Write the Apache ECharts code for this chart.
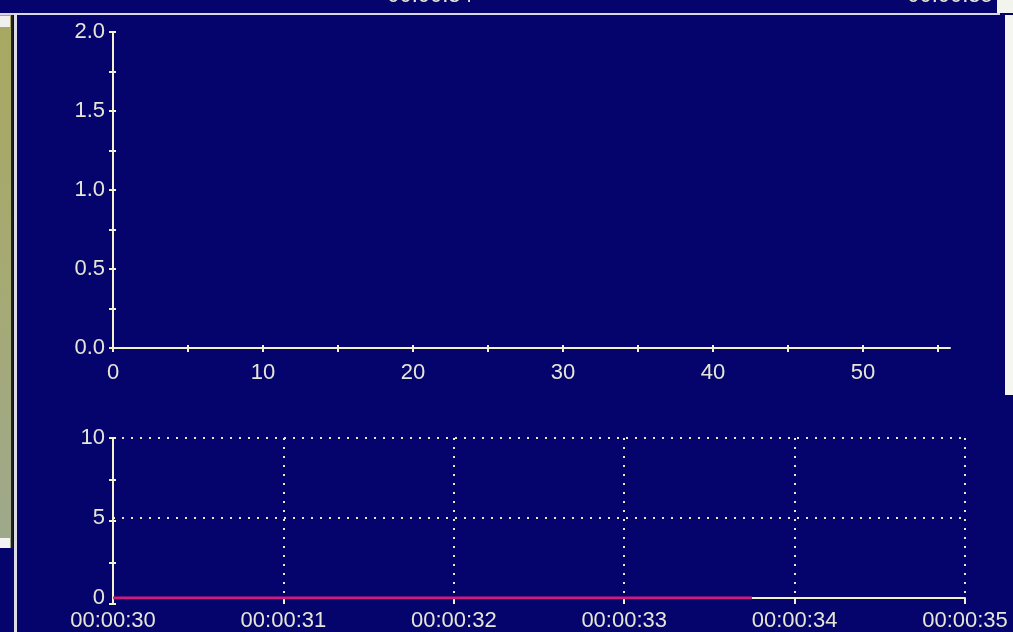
<!DOCTYPE html>
<html>
<head>
<meta charset="utf-8">
<script src="https://cdn.jsdelivr.net/npm/echarts@6/dist/echarts.min.js"></script>
<style>
html,body{margin:0;padding:0;background:#04046c;}
#c{width:1013px;height:632px;}
</style>
</head>
<body>
<div id="c"></div>
<script>
// ---- data ----
var topXTicks = [0,5,10,15,20,25,30,35,40,45,50,55];
var topXLabels = [0,10,20,30,40,50];
var topYTicks = [0,0.25,0.5,0.75,1,1.25,1.5,1.75,2];
var topYLabels = [0,0.5,1,1.5,2];
var botXTicks = [30,31,32,33,34,35];
var botYTicks = [0,2.5,5,7.5,10];
var botYLabels = [0,5,10];
var pinkSeries = [[30,0],[33.75,0]];
var stripLabels = ['00:00:34','00:00:35'];

var AX = '#f2f2cc';
var TXT = '#e6e6d6';
var FONT = '"Liberation Sans Narrow","Liberation Sans",Arial,sans-serif';
var FS = 22;
var G0 = {left:113,top:32,width:837,height:316};
var G1 = {left:113,top:438,width:852,height:166};
// helper grids so that ticks also cross the axis line on the inner side
var G2 = {left:G0.left-100,top:G0.top,width:100,height:G0.height};
var G3 = {left:G0.left,top:G0.top+G0.height,width:G0.width,height:30};
var G4 = {left:G1.left-100,top:G1.top,width:100,height:G1.height};
var G5 = {left:G1.left,top:G1.top+G1.height,width:G1.width,height:20};
var G6 = {left:G1.left,top:G1.top,width:G1.width,height:G1.height};
function timeFmt(v){var s=Math.round(v);return '00:00:'+(s<10?'0'+s:s);}
function fmt1(v){return v.toFixed(1);}

var chart = echarts.init(document.getElementById('c'));
var LINE_ON = {show:true,onZero:false,lineStyle:{color:AX,width:2}};
var LINE_OFF = {show:false,onZero:false};
function mkAxis(o){
  return Object.assign({
    axisLine:LINE_ON,
    splitLine:{show:false},
    axisLabel:{show:false},
    axisTick:{show:false}
  },o);
}
function tick(vals,len){return {show:true,length:len,customValues:vals,lineStyle:{color:AX,width:2}};}
function hidden(g){return {type:'value',gridIndex:g,show:false,min:0,max:1,axisLine:LINE_OFF};}
var DOT = {show:true,lineStyle:{color:'#e8e8d0',width:2,type:[2,7]}};
var option = {
  backgroundColor:'#04046c',
  animation:false,
  grid:[G0,G1,G2,G3,G4,G5,G6],
  xAxis:[
    mkAxis({type:'value',gridIndex:0,position:'bottom',min:0,max:55.8,
      axisTick:tick(topXTicks,4),
      axisLabel:{show:true,customValues:topXLabels,margin:14,color:TXT,fontSize:FS,fontFamily:FONT}}),
    mkAxis({type:'value',gridIndex:1,position:'bottom',min:30,max:35,interval:1,
      splitLine:DOT,
      axisTick:tick(botXTicks,4),
      axisLabel:{show:true,margin:12,color:TXT,fontSize:FS,fontFamily:FONT,formatter:timeFmt}}),
    hidden(2),
    mkAxis({type:'value',gridIndex:3,position:'top',min:0,max:55.8,axisLine:LINE_OFF,
      axisTick:tick(topXTicks,3)}),
    hidden(4),
    mkAxis({type:'value',gridIndex:5,position:'top',min:30,max:35,axisLine:LINE_OFF,
      axisTick:tick(botXTicks,5)}),
    hidden(6)
  ],
  yAxis:[
    mkAxis({type:'value',gridIndex:0,position:'left',min:0,max:2,
      axisTick:tick(topYTicks,4),
      axisLabel:{show:true,customValues:topYLabels,margin:8,color:TXT,fontSize:FS,fontFamily:FONT,formatter:fmt1}}),
    mkAxis({type:'value',gridIndex:1,position:'left',min:0,max:10,interval:5,
      splitLine:DOT,
      axisLabel:{show:true,margin:8,color:TXT,fontSize:FS,fontFamily:FONT}}),
    mkAxis({type:'value',gridIndex:2,position:'right',min:0,max:2,axisLine:LINE_OFF,
      axisTick:tick(topYTicks,3)}),
    hidden(3),
    mkAxis({type:'value',gridIndex:4,position:'right',min:0,max:10,axisLine:LINE_OFF,
      axisTick:tick(botYTicks,3)}),
    hidden(5),
    mkAxis({type:'value',gridIndex:6,position:'left',min:0,max:10,axisLine:LINE_OFF,
      axisTick:tick(botYTicks,4)})
  ],
  series:[
    {type:'line',xAxisIndex:1,yAxisIndex:1,data:pinkSeries,showSymbol:false,
     lineStyle:{color:'#d01c7c',width:3},z:5}
  ],
  graphic:[
    // top strip
    {type:'rect',shape:{x:0,y:0,width:997,height:13},style:{fill:'#04046c'},z:-1},
    {type:'text',x:430,y:-15,style:{text:stripLabels[0],fill:TXT,font:FS+'px '+FONT,align:'center'}},
    {type:'text',x:950,y:-15,style:{text:stripLabels[1],fill:TXT,font:FS+'px '+FONT,align:'center'}},
    {type:'rect',shape:{x:997,y:0,width:16,height:13},style:{fill:'#f4f4ee'}},
    {type:'rect',shape:{x:0,y:13,width:1000,height:2},style:{fill:'#d8d8e4'}},
    // right white panel
    {type:'rect',shape:{x:1005,y:15,width:8,height:380},style:{fill:'#f6f6f0'}},
    // left khaki panel
    {type:'rect',shape:{x:0,y:15,width:11,height:533},style:{fill:{type:'linear',x:0,y:0,x2:0,y2:1,colorStops:[{offset:0,color:'#a8a860'},{offset:0.5,color:'#a6aa74'},{offset:1,color:'#9ea88c'}]}}},
    {type:'rect',shape:{x:0,y:16,width:10,height:11},style:{fill:'#f0f0f0'}},
    {type:'rect',shape:{x:0,y:538,width:10,height:10},style:{fill:'#f4f4f4'}},
    {type:'rect',shape:{x:11,y:15,width:2,height:533},style:{fill:'#202020'}},
    {type:'rect',shape:{x:14,y:13,width:3,height:619},style:{fill:'#dcdce8'}}
  ]
};
chart.setOption(option);
</script>
</body>
</html>
